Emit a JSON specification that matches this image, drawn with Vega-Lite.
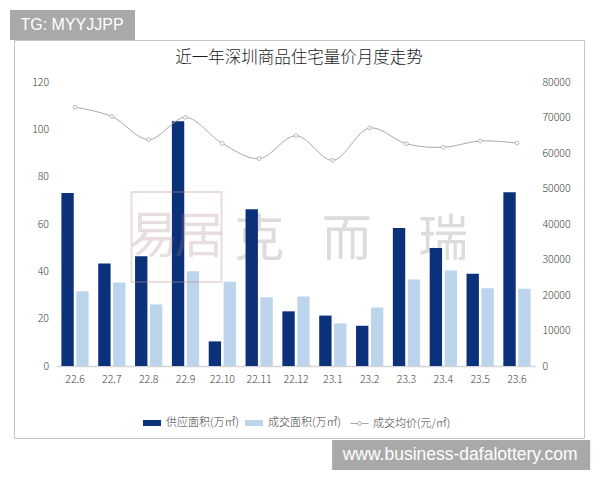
{
"$schema":"https://vega.github.io/schema/vega-lite/v6.json",
"autosize":"none","width":570,"height":398,
"padding":{"left":14,"top":40,"right":16,"bottom":42},
"background":"white",
"config":{"view":{"stroke":"#c6c6c6","strokeWidth":1,"fill":"white"},"font":"Noto Sans CJK SC"},
"title":{"text":"近一年深圳商品住宅量价月度走势","font":"Noto Sans CJK SC","fontSize":16.5,"fontWeight":300,"color":"#1a1a1a","anchor":"middle","offset":-56},
"datasets":{
"bars":[
{"month":"22.6","series":"供应面积(万㎡)","value":73.1},{"month":"22.7","series":"供应面积(万㎡)","value":43.3},{"month":"22.8","series":"供应面积(万㎡)","value":46.4},{"month":"22.9","series":"供应面积(万㎡)","value":103.4},{"month":"22.10","series":"供应面积(万㎡)","value":10.4},{"month":"22.11","series":"供应面积(万㎡)","value":66.2},{"month":"22.12","series":"供应面积(万㎡)","value":23.1},{"month":"23.1","series":"供应面积(万㎡)","value":21.3},{"month":"23.2","series":"供应面积(万㎡)","value":17},{"month":"23.3","series":"供应面积(万㎡)","value":58.3},{"month":"23.4","series":"供应面积(万㎡)","value":49.9},{"month":"23.5","series":"供应面积(万㎡)","value":39},{"month":"23.6","series":"供应面积(万㎡)","value":73.4},
{"month":"22.6","series":"成交面积(万㎡)","value":31.6},{"month":"22.7","series":"成交面积(万㎡)","value":35.3},{"month":"22.8","series":"成交面积(万㎡)","value":26},{"month":"22.9","series":"成交面积(万㎡)","value":40},{"month":"22.10","series":"成交面积(万㎡)","value":35.6},{"month":"22.11","series":"成交面积(万㎡)","value":29},{"month":"22.12","series":"成交面积(万㎡)","value":29.4},{"month":"23.1","series":"成交面积(万㎡)","value":18},{"month":"23.2","series":"成交面积(万㎡)","value":24.7},{"month":"23.3","series":"成交面积(万㎡)","value":36.6},{"month":"23.4","series":"成交面积(万㎡)","value":40.4},{"month":"23.5","series":"成交面积(万㎡)","value":32.8},{"month":"23.6","series":"成交面积(万㎡)","value":32.6}],
"price":[
{"month":"22.6","series":"成交均价(元/㎡)","price":72900},{"month":"22.7","series":"成交均价(元/㎡)","price":70300},{"month":"22.8","series":"成交均价(元/㎡)","price":63750},{"month":"22.9","series":"成交均价(元/㎡)","price":70050},{"month":"22.10","series":"成交均价(元/㎡)","price":62700},{"month":"22.11","series":"成交均价(元/㎡)","price":58400},{"month":"22.12","series":"成交均价(元/㎡)","price":64900},{"month":"23.1","series":"成交均价(元/㎡)","price":57950},{"month":"23.2","series":"成交均价(元/㎡)","price":67050},{"month":"23.3","series":"成交均价(元/㎡)","price":62600},{"month":"23.4","series":"成交均价(元/㎡)","price":61600},{"month":"23.5","series":"成交均价(元/㎡)","price":63400},{"month":"23.6","series":"成交均价(元/㎡)","price":62800}]
},
"encoding":{"x":{"field":"month","type":"nominal","sort":null,
"scale":{"domain":["22.6","22.7","22.8","22.9","22.10","22.11","22.12","23.1","23.2","23.3","23.4","23.5","23.6"],"range":[42.6,521.4],"paddingInner":0.26,"paddingOuter":0.13},
"axis":{"title":null,"offset":-72,"labelAngle":0,"ticks":false,"domainColor":"#d4d4d4","domainWidth":1.5,"labelColor":"#404040","labelFontSize":10.5,"labelFontWeight":300,"labelPadding":8,"grid":false,"labelFont":"Noto Sans CJK SC"}}},
"layer":[
{"encoding":{"y":{"field":"value","type":"quantitative","scale":{"domain":[0,120],"nice":false,"range":[326,42]},
"axis":{"title":null,"offset":-37.5,"values":[0,20,40,60,80,100,120],"domain":false,"ticks":false,"grid":false,"labelColor":"#404040","labelFontSize":10.5,"labelFontWeight":300,"labelPadding":3,"labelFont":"Noto Sans CJK SC"}}},
"layer":[
{"data":{"values":[{"month":"22.11","value":53,"label":"克"},{"month":"23.4","value":53,"label":"瑞"}]},
"mark":{"type":"text","fontSize":50,"color":"#dcdcdc","fontWeight":"normal","font":"Noto Sans CJK SC"},
"encoding":{"text":{"field":"label"}}},
{"data":{"values":[{"month":"23.1","value":53,"label":"而"}]},
"mark":{"type":"text","fontSize":50,"color":"#dcdcdc","dx":14,"fontWeight":"normal","font":"Noto Sans CJK SC"},
"encoding":{"text":{"field":"label"}}},
{"data":{"name":"bars"},"mark":{"type":"bar"},
"encoding":{"xOffset":{"field":"series","type":"nominal","sort":null,"scale":{"domain":["供应面积(万㎡)","成交面积(万㎡)"],"paddingInner":0.17}},
"fill":{"field":"series","type":"nominal","scale":{"domain":["供应面积(万㎡)","成交面积(万㎡)"],"range":["#0b317a","#bcd5ec"]},
"legend":{"title":null,"orient":"none","legendX":129,"legendY":374,"direction":"horizontal","symbolType":"M-1,-0.333H1V0.333H-1Z","symbolSize":324,"symbolStrokeWidth":0,"labelFontSize":11,"labelFontWeight":300,"labelColor":"#404040","labelOffset":5,"columnPadding":6,"padding":0}}}},
{"data":{"values":[{"month":"22.9","value":54.5}]},"mark":{"type":"point","shape":"square","size":8100,"filled":false,"stroke":"#b89090","strokeWidth":2,"opacity":0.3,"xOffset":-9}},
{"data":{"values":[{"month":"22.8","value":54,"label":"易"}]},"mark":{"type":"text","fontSize":50,"color":"#b07a7a","opacity":0.25,"fontWeight":"normal","dx":5,"font":"Noto Sans CJK SC"},"encoding":{"text":{"field":"label"}}},
{"data":{"values":[{"month":"22.9","value":54,"label":"居"}]},"mark":{"type":"text","fontSize":50,"color":"#b07a7a","opacity":0.25,"fontWeight":"normal","dx":14,"font":"Noto Sans CJK SC"},"encoding":{"text":{"field":"label"}}},
{"data":{"values":[{"month":"22.6","value":137.7,"bottom":150.4}]},"mark":{"type":"bar","width":125,"color":"#a9a9a9","xOffset":-2.5},"encoding":{"y2":{"field":"bottom"}}},
{"data":{"values":[{"month":"23.5","value":-31.3,"bottom":-43.9}]},"mark":{"type":"bar","width":258,"color":"#a9a9a9","xOffset":-19},"encoding":{"y2":{"field":"bottom"}}},
{"data":{"values":[{"month":"22.6","value":144,"label":"TG: MYYJJPP"}]},"mark":{"type":"text","fontSize":16,"color":"white","font":"Liberation Sans","dx":-3},"encoding":{"text":{"field":"label"}}},
{"data":{"values":[{"month":"23.5","value":-37.5,"label":"www.business-dafalottery.com"}]},"mark":{"type":"text","fontSize":17.5,"color":"white","font":"Liberation Sans","dx":-20},"encoding":{"text":{"field":"label"}}}
]},
{"data":{"name":"price"},
"mark":{"type":"line","interpolate":"catmull-rom","strokeWidth":1,"point":{"filled":true,"fill":"white","stroke":"#a8a8a8","strokeWidth":0.8,"size":14}},
"encoding":{"y":{"field":"price","type":"quantitative","scale":{"domain":[0,80000],"nice":false,"range":[326,42]},
"axis":{"title":null,"orient":"right","offset":-42,"format":"d","values":[0,10000,20000,30000,40000,50000,60000,70000,80000],"domain":false,"ticks":false,"grid":false,"labelColor":"#404040","labelFontSize":10.5,"labelFontWeight":300,"labelPadding":0,"labelFont":"Noto Sans CJK SC"}},
"stroke":{"field":"series","type":"nominal","scale":{"range":["#a8a8a8"]},
"legend":{"title":null,"orient":"none","legendX":336,"legendY":374,"symbolType":"M-1,0H-0.2M0.2,0H1M-0.2,0A0.2,0.2 0 1 1 0.2,0A0.2,0.2 0 1 1 -0.2,0","symbolSize":324,"symbolStrokeWidth":1,"labelFontSize":11,"labelFontWeight":300,"labelColor":"#404040","labelOffset":4,"padding":0}}}}
],
"resolve":{"scale":{"y":"independent","fill":"independent","stroke":"independent"},"axis":{"y":"independent"}}
}
